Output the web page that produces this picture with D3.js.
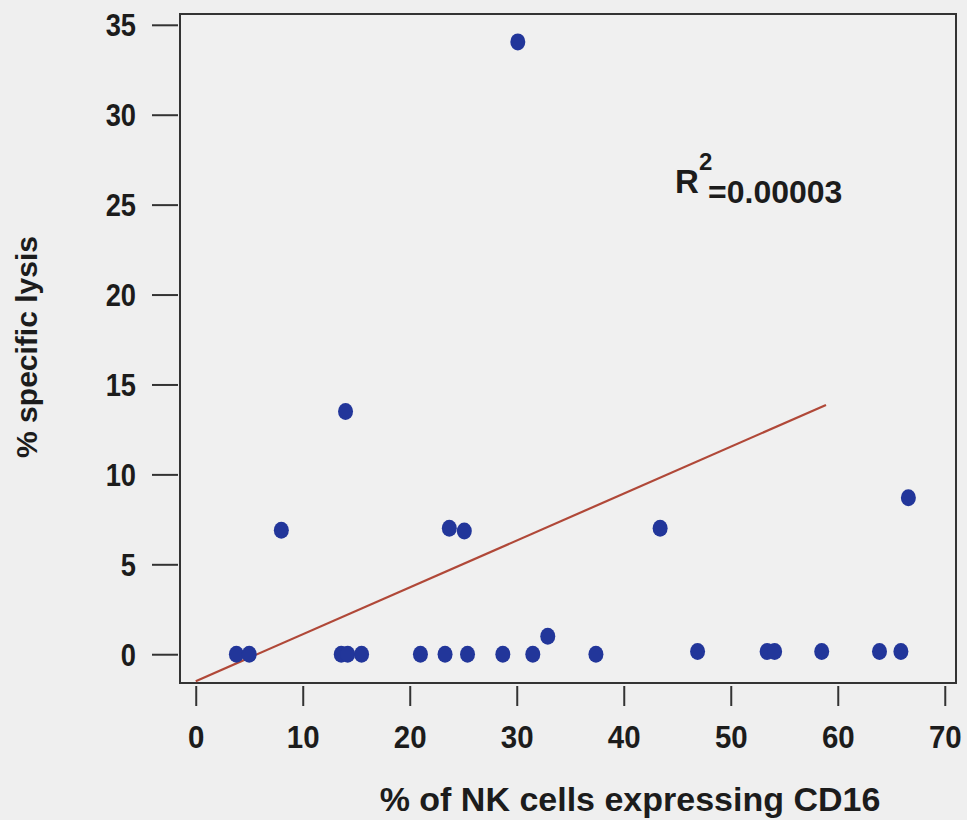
<!DOCTYPE html>
<html>
<head>
<meta charset="utf-8">
<script src="https://cdn.jsdelivr.net/npm/d3@7/dist/d3.min.js"></script>
<style>
  html, body { margin: 0; padding: 0; background: #efefef; }
  svg { display: block; }
  text { font-family: "Liberation Sans", Arial, sans-serif; font-weight: bold; fill: #1c1c1c; }
</style>
</head>
<body>
<svg id="chart" width="967" height="820"></svg>
<script>
// Data
const cd16Percent = [3.8, 5.0, 8.0, 13.6, 14.2, 14.0, 15.5, 21.0, 23.3, 23.7, 25.1, 25.4, 28.7, 30.1, 31.5, 32.9, 37.4, 43.4, 46.9, 53.4, 54.1, 58.5, 63.9, 65.9, 66.6];
const specificLysis = [0, 0, 6.9, 0, 0, 13.5, 0, 0, 0, 7.0, 6.85, 0, 0, 34.05, 0, 1.0, 0, 7.0, 0.15, 0.15, 0.15, 0.15, 0.15, 0.15, 8.7];
const trendX = [0, 58.9];
const trendY = [-1.5, 13.86];
const xTicks = [0, 10, 20, 30, 40, 50, 60, 70];
const yTicks = [0, 5, 10, 15, 20, 25, 30, 35];
const xTitle = "% of NK cells expressing CD16";
const yTitle = "% specific lysis";
const r2Label = "=0.00003";

const svg = d3.select("#chart");
const pLeft = 180, pRight = 956, pTop = 14, pBottom = 683;

const x = d3.scaleLinear().domain([-1.47, 71.05]).range([pLeft, pRight]);
const y = d3.scaleLinear().domain([-1.6, 35.6]).range([pBottom, pTop]);

function squeeze(sel, k) {
  sel.each(function () {
    const len = this.getComputedTextLength();
    d3.select(this).attr("textLength", len * k).attr("lengthAdjust", "spacingAndGlyphs");
  });
}

// frame
svg.append("rect")
  .attr("x", pLeft).attr("y", pTop)
  .attr("width", pRight - pLeft).attr("height", pBottom - pTop)
  .attr("fill", "#f0f0f0").attr("stroke", "#333").attr("stroke-width", 2);

// y axis (ticks outside, offset from frame)
const yAxis = svg.append("g")
  .attr("transform", `translate(${pLeft - 2},0)`)
  .call(d3.axisLeft(y).tickValues(yTicks).tickSize(26).tickPadding(16));
yAxis.select(".domain").remove();
yAxis.selectAll("line").attr("stroke", "#333").attr("stroke-width", 2);
yAxis.selectAll("text").attr("font-size", 31).attr("font-family", "Liberation Sans, Arial, sans-serif")
  .attr("font-weight", "bold").attr("fill", "#1c1c1c").attr("dy", "0.36em");
squeeze(yAxis.selectAll("text"), 0.88);

// x axis
const xAxis = svg.append("g")
  .attr("transform", `translate(0,${pBottom + 3})`)
  .call(d3.axisBottom(x).tickValues(xTicks).tickSize(20).tickPadding(20));
xAxis.select(".domain").remove();
xAxis.selectAll("line").attr("stroke", "#333").attr("stroke-width", 2);
xAxis.selectAll("text").attr("font-size", 31).attr("font-family", "Liberation Sans, Arial, sans-serif")
  .attr("font-weight", "bold").attr("fill", "#1c1c1c");
squeeze(xAxis.selectAll("text"), 0.95);

// trend line
svg.append("line")
  .attr("x1", x(trendX[0])).attr("y1", y(trendY[0]))
  .attr("x2", x(trendX[1])).attr("y2", y(trendY[1]))
  .attr("stroke", "#b04838").attr("stroke-width", 2.2);

// points
svg.append("g").selectAll("ellipse")
  .data(cd16Percent.map((v, i) => [v, specificLysis[i]]))
  .join("ellipse")
  .attr("cx", d => x(d[0])).attr("cy", d => y(d[1]))
  .attr("rx", 7.5).attr("ry", 8.5)
  .attr("fill", "#22369a");

// R^2 label
const r2 = svg.append("g");
r2.append("text").attr("x", 675).attr("y", 193).attr("font-size", 33).text("R");
r2.append("text").attr("x", 699).attr("y", 170).attr("font-size", 24).text("2");
r2.append("text").attr("x", 708).attr("y", 203).attr("font-size", 32).text(r2Label);

// axis titles
svg.append("text")
  .attr("x", 630).attr("y", 811)
  .attr("text-anchor", "middle").attr("font-size", 34)
  .text(xTitle);

svg.append("text")
  .attr("transform", "translate(37,347) rotate(-90)")
  .attr("text-anchor", "middle").attr("font-size", 30)
  .text(yTitle);
</script>
</body>
</html>
